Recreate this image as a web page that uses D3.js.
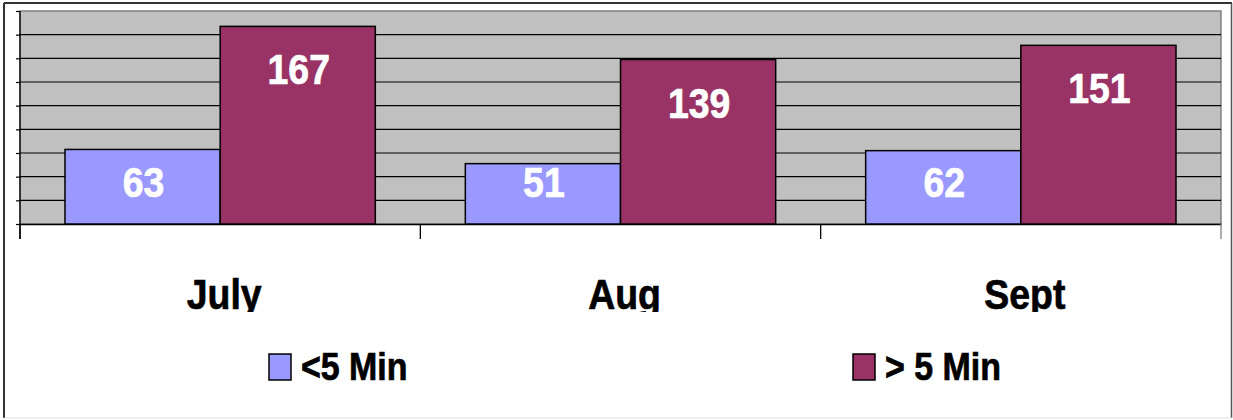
<!DOCTYPE html>
<html><head><meta charset="utf-8">
<script src="https://cdn.jsdelivr.net/npm/d3@7"></script>
<style>body{margin:0;background:#fff}svg{display:block}text{font-family:"Liberation Sans",Arial,sans-serif;font-weight:bold}</style>
</head><body>
<script>
const categories = ["July", "Aug", "Sept"];
const seriesNames = ["<5 Min", "> 5 Min"];
const under5 = [63, 51, 62];
const over5 = [167, 139, 151];
const yTicks = [0, 20, 40, 60, 80, 100, 120, 140, 160, 180];
const colors = ["#9999FF", "#993366"];

const W = 1233, H = 420;
const svg = d3.select("body").append("svg").attr("width", W).attr("height", H);
const M = {left: 20, right: 1221, top: 11, bottom: 224};
const sx = 0.87;

// outer border
svg.append("line").attr("x1",4).attr("y1",3).attr("x2",1232).attr("y2",3).attr("stroke","#333").attr("stroke-width",2);
svg.append("line").attr("x1",4).attr("y1",3).attr("x2",4).attr("y2",418).attr("stroke","#333").attr("stroke-width",2);
svg.append("line").attr("x1",1231.5).attr("y1",3).attr("x2",1231.5).attr("y2",418).attr("stroke","#555").attr("stroke-width",1.5);
svg.append("line").attr("x1",4).attr("y1",418).attr("x2",1232).attr("y2",418).attr("stroke","#ddd").attr("stroke-width",1);

const x0 = d3.scaleBand().domain(categories).range([M.left, M.right]).paddingInner(0).paddingOuter(0);
const x1 = d3.scaleBand().domain(seriesNames).range([0, x0.bandwidth()]).paddingInner(0).paddingOuter(0.29);
const y = d3.scaleLinear().domain([0, 180]).range([M.bottom, M.top]);

// plot area
svg.append("rect").attr("x", M.left).attr("y", M.top).attr("width", M.right - M.left).attr("height", M.bottom - M.top)
  .attr("fill", "#C0C0C0").attr("stroke", "#808080").attr("stroke-width", 1.5);

// gridlines
svg.append("g").selectAll("line").data(yTicks.filter(t => t > 0 && t < 180)).join("line")
  .attr("x1", M.left).attr("x2", M.right).attr("y1", d => y(d)).attr("y2", d => y(d))
  .attr("stroke", "#000").attr("stroke-width", 1.2);

// y axis
const yAxis = svg.append("g").attr("transform", `translate(${M.left},0)`)
  .call(d3.axisLeft(y).tickValues(yTicks).tickSize(4).tickFormat(""));
yAxis.select(".domain").remove();
yAxis.selectAll("line").attr("stroke", "#000").attr("stroke-width", 1.2);
svg.append("line").attr("x1", M.left).attr("x2", M.left).attr("y1", M.top).attr("y2", 239).attr("stroke", "#000").attr("stroke-width", 1.3);

// x axis
const xAxis = svg.append("g").attr("transform", `translate(0,${M.bottom})`)
  .call(d3.axisBottom(x0).tickSize(0).tickFormat(""));
xAxis.select(".domain").attr("stroke", "#000").attr("stroke-width", 1.5);
const bounds = categories.map(c => x0(c)).concat([M.right]);
svg.append("g").selectAll("line").data(bounds).join("line")
  .attr("x1", d => d).attr("x2", d => d).attr("y1", M.bottom).attr("y2", 239)
  .attr("stroke", d => d === M.right ? "#808080" : "#000").attr("stroke-width", 1.3);

// bars
const rows = categories.map((c, i) => ({cat: c, vals: [under5[i], over5[i]]}));
const groups = svg.append("g").selectAll("g").data(rows).join("g")
  .attr("transform", d => `translate(${x0(d.cat)},0)`);
const bars = groups.selectAll("g").data(d => d.vals.map((v, j) => ({v, s: seriesNames[j], j}))).join("g");
bars.append("rect")
  .attr("x", d => x1(d.s)).attr("width", x1.bandwidth())
  .attr("y", d => y(d.v)).attr("height", d => y(0) - y(d.v))
  .attr("fill", d => colors[d.j]).attr("stroke", "#000").attr("stroke-width", 1.5);
bars.append("text")
  .attr("transform", d => `translate(${x1(d.s) + x1.bandwidth() / 2 + 1},${Math.min(y(d.v) + 58, 197)}) scale(${sx},1)`)
  .attr("text-anchor", "middle").attr("fill", "#fff").attr("stroke", "#fff").attr("stroke-width", 0.7)
  .attr("font-size", 43)
  .text(d => d.v);

// category labels (clipped at bottom like the original)
svg.append("clipPath").attr("id", "catclip").append("rect").attr("x", 0).attr("y", 240).attr("width", W).attr("height", 72);
svg.append("g").attr("clip-path", "url(#catclip)").selectAll("text").data(categories).join("text")
  .attr("transform", d => `translate(${x0(d) + x0.bandwidth() / 2 + 4},309) scale(${sx},1)`)
  .attr("text-anchor", "middle").attr("font-size", 43).attr("fill", "#000").attr("stroke", "#000").attr("stroke-width", 0.7)
  .text(d => d);

// legend
const legendX = [269, 853];
const leg = svg.append("g").selectAll("g").data(seriesNames).join("g")
  .attr("transform", (d, i) => `translate(${legendX[i]},354)`);
leg.append("rect").attr("width", 22).attr("height", 26).attr("fill", (d, i) => colors[i]).attr("stroke", "#000").attr("stroke-width", 1.5);
leg.append("text").attr("transform", `translate(32,26) scale(${sx},1)`).attr("font-size", 39)
  .attr("fill", "#000").attr("stroke", "#000").attr("stroke-width", 0.7).text(d => d);
</script>
</body></html>
